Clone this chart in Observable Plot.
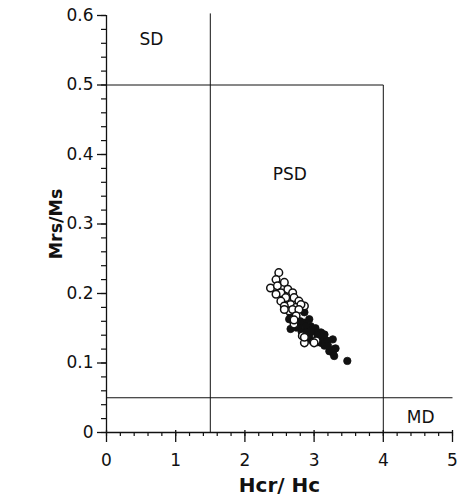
<!DOCTYPE html>
<html>
<head>
<meta charset="utf-8">
<script src="https://cdn.jsdelivr.net/npm/d3@7"></script>
<script src="https://cdn.jsdelivr.net/npm/@observablehq/plot@0.6"></script>
<style>
  html, body { margin: 0; padding: 0; background: #fff; }
  svg { display: block; }
</style>
</head>
<body>
<div id="chart"></div>
<script>
// Tick values and labels
const xTicks = [0, 1, 2, 3, 4, 5];
const xTickLabels = ["0", "1", "2", "3", "4", "5"];
const yTicks = [0, 0.1, 0.2, 0.3, 0.4, 0.5, 0.6];
const yTickLabels = ["0", "0.1", "0.2", "0.3", "0.4", "0.5", "0.6"];
const xMinor = d3.range(0, 5.0001, 0.2);
const yMinor = d3.range(0, 0.6001, 0.02);

// Day-plot domain boundaries
const boundX1 = [1.5, 4, 0, 0];
const boundY1 = [0, 0, 0.5, 0.05];
const boundX2 = [1.5, 4, 4, 5];
const boundY2 = [0.603, 0.5, 0.5, 0.05];

// Region labels
const regionNames = ["SD", "PSD", "MD"];
const regionX = [0.65, 2.65, 4.54];
const regionY = [0.565, 0.371, 0.021];

// Open circles
const openHcr = [2.49, 2.45, 2.37, 2.47, 2.57, 2.62, 2.52, 2.45, 2.69, 2.71, 2.59, 2.52, 2.78, 2.66, 2.57,
  2.86, 2.74, 2.64, 2.81, 2.57, 2.69, 2.78, 2.74, 2.71, 2.83, 2.86, 3.03, 3.00, 2.86, 2.71];
const openMrs = [0.230, 0.220, 0.208, 0.211, 0.216, 0.206, 0.201, 0.199, 0.201, 0.194, 0.194, 0.189, 0.189, 0.184, 0.182,
  0.182, 0.180, 0.175, 0.184, 0.177, 0.177, 0.177, 0.168, 0.156, 0.139, 0.129, 0.132, 0.129, 0.137, 0.162];

// Filled circles
const filledHcr = [2.66, 2.64, 2.86, 2.93, 2.95, 2.78, 3.00, 3.10, 3.12, 2.93, 3.19, 3.27, 3.15, 3.29, 3.22,
  3.05, 2.86, 3.15, 3.27, 3.48, 3.10, 2.66, 2.74, 2.88, 3.31, 3.29, 2.98, 2.82, 2.90, 3.02,
  2.80, 2.95, 3.05, 3.20, 2.90];
const filledMrs = [0.170, 0.163, 0.158, 0.163, 0.153, 0.151, 0.146, 0.144, 0.137, 0.139, 0.132, 0.134, 0.125, 0.120, 0.117,
  0.139, 0.173, 0.141, 0.115, 0.103, 0.129, 0.149, 0.151, 0.153, 0.121, 0.110, 0.131, 0.145, 0.145, 0.150,
  0.160, 0.145, 0.130, 0.125, 0.135];

const ink = "#111";
const W = 468, H = 502, mL = 106, mR = 16, mT = 15, mB = 70;
const frameW = W - mL - mR, frameH = H - mT - mB;

const chart = Plot.plot({
  width: W,
  height: H,
  marginLeft: mL,
  marginRight: mR,
  marginTop: mT,
  marginBottom: mB,
  style: { fontFamily: "DejaVu Sans, sans-serif", fontSize: "17px", color: ink, background: "#fff" },
  x: { domain: [0, 5] },
  y: { domain: [0, 0.6] },
  marks: [
    // tick labels
    Plot.axisX({ ticks: xTicks, tickSize: 0, tickPadding: 21, tickFormat: (d, i) => xTickLabels[i], label: null, fill: ink, fontSize: 17 }),
    Plot.axisY({ ticks: yTicks, tickSize: 0, tickPadding: 13, tickFormat: (d, i) => yTickLabels[i], label: null, fill: ink, fontSize: 17 }),
    // tick marks (pixel lengths via insets)
    Plot.ruleX(xMinor, { x: d => d, insetTop: frameH, insetBottom: -4, stroke: ink, strokeWidth: 1.2 }),
    Plot.ruleX(xTicks, { x: d => d, insetTop: frameH - 2, insetBottom: -10, stroke: ink, strokeWidth: 1.3 }),
    Plot.ruleY(yMinor, { y: d => d, insetLeft: -5, insetRight: frameW, stroke: ink, strokeWidth: 1.2 }),
    Plot.ruleY(yTicks, { y: d => d, insetLeft: -9, insetRight: frameW, stroke: ink, strokeWidth: 1.3 }),
    // axis lines
    Plot.ruleY([0], { stroke: ink, strokeWidth: 1.3 }),
    Plot.ruleX([0], { stroke: ink, strokeWidth: 1.3 }),
    // boundaries
    Plot.link(boundX1, { x1: boundX1, y1: boundY1, x2: boundX2, y2: boundY2, stroke: ink, strokeWidth: 1 }),
    // region labels
    Plot.text(regionNames, { x: regionX, y: regionY, text: regionNames, fontSize: 17, fill: ink }),
    // data
    Plot.dot(filledHcr, { x: filledHcr, y: filledMrs, r: 3.7, fill: ink, stroke: ink, strokeWidth: 0.8 }),
    Plot.dot(openHcr, { x: openHcr, y: openMrs, r: 3.8, fill: "#fff", stroke: ink, strokeWidth: 1.5 }),
    // axis titles
    Plot.text(["Hcr/ Hc"], { frameAnchor: "bottom", dy: 59, text: d => d, fontSize: 20, fontWeight: "bold", fill: ink }),
    Plot.text(["Mrs/Ms"], { frameAnchor: "left", dx: -50, rotate: -90, textAnchor: "middle", text: d => d, fontSize: 17.5, fontWeight: "bold", fill: ink })
  ]
});
document.getElementById("chart").appendChild(chart);
</script>
</body>
</html>
